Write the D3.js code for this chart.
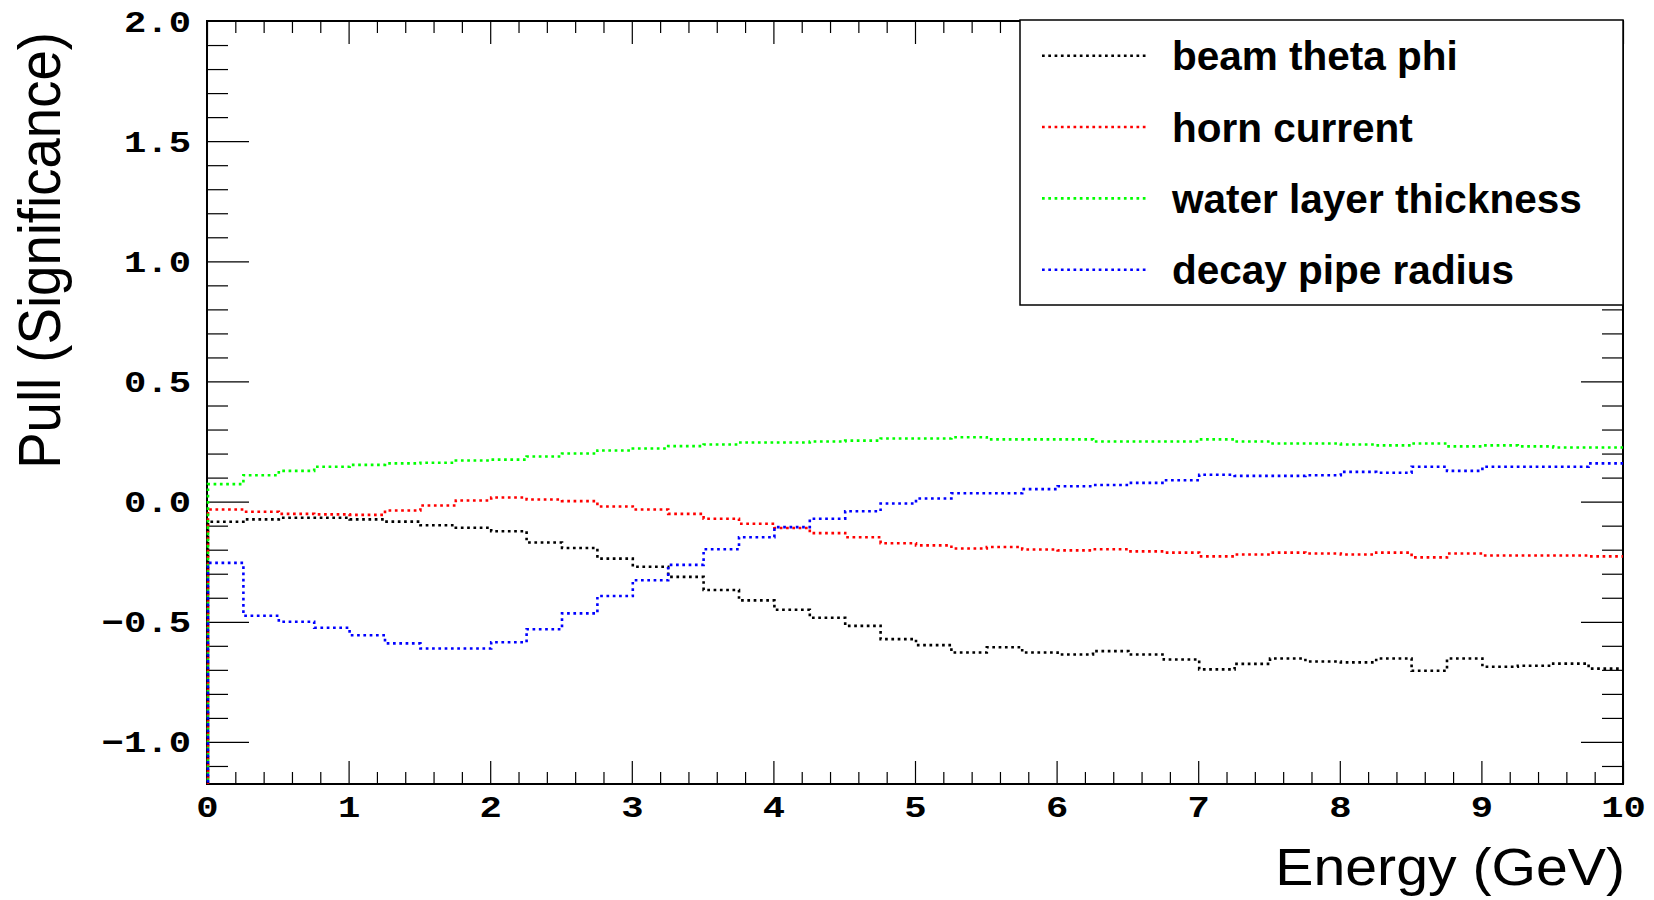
<!DOCTYPE html>
<html>
<head>
<meta charset="utf-8">
<script src="https://cdn.jsdelivr.net/npm/d3@7"></script>
<style>
  html, body { margin: 0; padding: 0; background: #fff; }
  svg { display: block; }
</style>
</head>
<body>
<svg id="chart" width="1654" height="900"></svg>
<script>
// Energy binning: 40 bins of 0.25 GeV from 0 to 10 GeV
const binEdges = d3.range(0, 40).map(i => i * 0.25);
const xMax = 10;

// Pull per energy bin for each systematic
const beamThetaPhi = [-0.084,-0.074,-0.067,-0.067,-0.074,-0.083,-0.098,-0.109,-0.123,-0.170,
  -0.193,-0.237,-0.271,-0.313,-0.368,-0.411,-0.450,-0.483,-0.517,-0.572,
  -0.597,-0.628,-0.606,-0.628,-0.636,-0.622,-0.636,-0.657,-0.698,-0.675,
  -0.653,-0.665,-0.669,-0.653,-0.704,-0.653,-0.687,-0.683,-0.674,-0.695];
const hornCurrent = [-0.033,-0.042,-0.051,-0.053,-0.055,-0.037,-0.016,0.005,0.017,0.009,
  0.002,-0.020,-0.033,-0.051,-0.071,-0.092,-0.110,-0.131,-0.148,-0.173,
  -0.182,-0.195,-0.189,-0.199,-0.203,-0.198,-0.207,-0.212,-0.228,-0.220,
  -0.212,-0.216,-0.220,-0.212,-0.232,-0.216,-0.224,-0.224,-0.224,-0.228];
const waterLayerThickness = [0.073,0.110,0.128,0.145,0.153,0.159,0.162,0.171,0.175,0.188,
  0.200,0.213,0.221,0.231,0.238,0.246,0.246,0.250,0.254,0.263,
  0.263,0.268,0.259,0.259,0.259,0.250,0.250,0.250,0.259,0.250,
  0.242,0.242,0.238,0.234,0.242,0.230,0.234,0.230,0.225,0.225];
const decayPipeRadius = [-0.255,-0.475,-0.500,-0.525,-0.556,-0.590,-0.611,-0.611,-0.585,-0.531,
  -0.465,-0.393,-0.327,-0.263,-0.198,-0.148,-0.106,-0.071,-0.040,-0.008,
  0.013,0.035,0.035,0.052,0.064,0.069,0.078,0.089,0.112,0.107,
  0.107,0.110,0.124,0.120,0.145,0.128,0.145,0.145,0.145,0.159];

const seriesNames = ["beam theta phi", "horn current", "water layer thickness", "decay pipe radius"];
const seriesColors = ["#000000", "#ff0000", "#00ff00", "#0000ff"];
const seriesValues = [beamThetaPhi, hornCurrent, waterLayerThickness, decayPipeRadius];

const xMajorTicks = d3.range(0, 11, 1);
const yMajorTicks = [-1.0, -0.5, 0.0, 0.5, 1.0, 1.5, 2.0];

const xTitle = "Energy (GeV)";
const yTitle = "Pull (Significance)";

// ---- layout ----
const frame = { left: 207, right: 1623, top: 21, bottom: 784 };
const yMin = -1.175, yMax = 2.0;

const svg = d3.select("#chart");
const x = d3.scaleLinear().domain([0, xMax]).range([frame.left, frame.right]);
const y = d3.scaleLinear().domain([yMin, yMax]).range([frame.bottom, frame.top]);

const xMinorTicks = d3.range(0, 50).map(i => i * 0.2).filter(v => Math.abs(v - Math.round(v)) > 1e-6);
const yMinorTicks = d3.range(-11, 21).map(i => i / 10).filter(v => Math.abs(v * 2 - Math.round(v * 2)) > 1e-6);

svg.append("rect").attr("width", 1654).attr("height", 900).attr("fill", "#fff");

svg.append("clipPath").attr("id", "plotClip")
  .append("rect")
  .attr("x", frame.left - 2).attr("y", frame.top)
  .attr("width", frame.right - frame.left + 2).attr("height", frame.bottom - frame.top);

// ---- axes (ticks inside the frame on all four sides) ----
function styleTicks(g) {
  g.select(".domain").remove();
  g.selectAll(".tick line").attr("stroke", "#000").attr("stroke-width", 1.2);
}

const labelFont = "'Liberation Mono', 'DejaVu Sans Mono', monospace";
const fmtY = d3.format(".1f");

// left
svg.append("g").attr("transform", `translate(${frame.left},0)`)
  .call(d3.axisRight(y).tickValues(yMinorTicks).tickSize(21).tickFormat(""))
  .call(styleTicks);
const gLeft = svg.append("g").attr("transform", `translate(${frame.left},0)`)
  .call(d3.axisRight(y).tickValues(yMajorTicks).tickSize(42).tickFormat(fmtY))
  .call(styleTicks);
gLeft.selectAll(".tick text")
  .attr("x", null).attr("dy", null)
  .attr("transform", "translate(-16,10) scale(1.24,1)")
  .attr("text-anchor", "end")
  .attr("fill", "#000")
  .style("font-family", labelFont)
  .style("font-weight", "bold")
  .style("font-size", "30px");

// right
svg.append("g").attr("transform", `translate(${frame.right},0)`)
  .call(d3.axisLeft(y).tickValues(yMinorTicks).tickSize(21).tickFormat(""))
  .call(styleTicks);
svg.append("g").attr("transform", `translate(${frame.right},0)`)
  .call(d3.axisLeft(y).tickValues(yMajorTicks).tickSize(42).tickFormat(""))
  .call(styleTicks);

// bottom
svg.append("g").attr("transform", `translate(0,${frame.bottom})`)
  .call(d3.axisTop(x).tickValues(xMinorTicks).tickSize(12).tickFormat(""))
  .call(styleTicks);
const gBottom = svg.append("g").attr("transform", `translate(0,${frame.bottom})`)
  .call(d3.axisTop(x).tickValues(xMajorTicks).tickSize(23).tickFormat(d3.format("d")))
  .call(styleTicks);
gBottom.selectAll(".tick text")
  .attr("y", null).attr("dy", null)
  .attr("transform", "translate(0,33) scale(1.24,1)")
  .attr("text-anchor", "middle")
  .attr("fill", "#000")
  .style("font-family", labelFont)
  .style("font-weight", "bold")
  .style("font-size", "30px");

// top
svg.append("g").attr("transform", `translate(0,${frame.top})`)
  .call(d3.axisBottom(x).tickValues(xMinorTicks).tickSize(12).tickFormat(""))
  .call(styleTicks);
svg.append("g").attr("transform", `translate(0,${frame.top})`)
  .call(d3.axisBottom(x).tickValues(xMajorTicks).tickSize(23).tickFormat(""))
  .call(styleTicks);

// frame
svg.append("rect")
  .attr("x", frame.left).attr("y", frame.top)
  .attr("width", frame.right - frame.left).attr("height", frame.bottom - frame.top)
  .attr("fill", "none").attr("stroke", "#000").attr("stroke-width", 2);

// ---- step histograms ----
const stepLine = d3.line()
  .x(d => x(d[0]))
  .y(d => y(d[1]))
  .curve(d3.curveStepAfter);

const histGroup = svg.append("g").attr("clip-path", "url(#plotClip)");
seriesValues.forEach((vals, k) => {
  const pts = [[0, yMin]];
  vals.forEach((v, i) => pts.push([binEdges[i], v]));
  pts.push([xMax, vals[vals.length - 1]]);
  histGroup.append("path")
    .attr("d", stepLine(pts))
    .attr("transform", "translate(1,0)")
    .attr("fill", "none")
    .attr("stroke", seriesColors[k])
    .attr("stroke-width", 2.6)
    .attr("stroke-dasharray", "2.7 3.6")
    .attr("stroke-dashoffset", k * 1.6);
});

// ---- axis titles ----
const titleFont = "'Liberation Sans', Arial, Helvetica, sans-serif";
svg.append("text")
  .attr("transform", `translate(1625,885) scale(1.1,1)`)
  .attr("text-anchor", "end")
  .style("font-family", titleFont)
  .style("font-size", "52px")
  .attr("fill", "#000")
  .text(xTitle);

svg.append("text")
  .attr("transform", `translate(60,32) scale(1.09,1) rotate(-90)`)
  .attr("text-anchor", "end")
  .style("font-family", titleFont)
  .style("font-size", "54.6px")
  .attr("fill", "#000")
  .text(yTitle);

// ---- legend ----
const legend = { x0: 1020, y0: 20, x1: 1623, y1: 305 };
svg.append("rect")
  .attr("x", legend.x0).attr("y", legend.y0)
  .attr("width", legend.x1 - legend.x0).attr("height", legend.y1 - legend.y0)
  .attr("fill", "#fff").attr("stroke", "#000").attr("stroke-width", 1.5);

const rowY = d3.scalePoint().domain(seriesNames).range([55.7, 269.7]);
const entries = svg.append("g").selectAll("g")
  .data(seriesNames)
  .join("g")
  .attr("transform", d => `translate(0,${rowY(d)})`);

entries.append("line")
  .attr("x1", 1042).attr("x2", 1148)
  .attr("y1", 0).attr("y2", 0)
  .attr("stroke", (d, i) => seriesColors[i])
  .attr("stroke-width", 2.6)
  .attr("stroke-dasharray", "2.7 3.6");

entries.append("text")
  .attr("x", 1172).attr("y", 14.5)
  .style("font-family", titleFont)
  .style("font-weight", "bold")
  .style("font-size", "40.5px")
  .attr("fill", "#000")
  .text(d => d);
</script>
</body>
</html>
